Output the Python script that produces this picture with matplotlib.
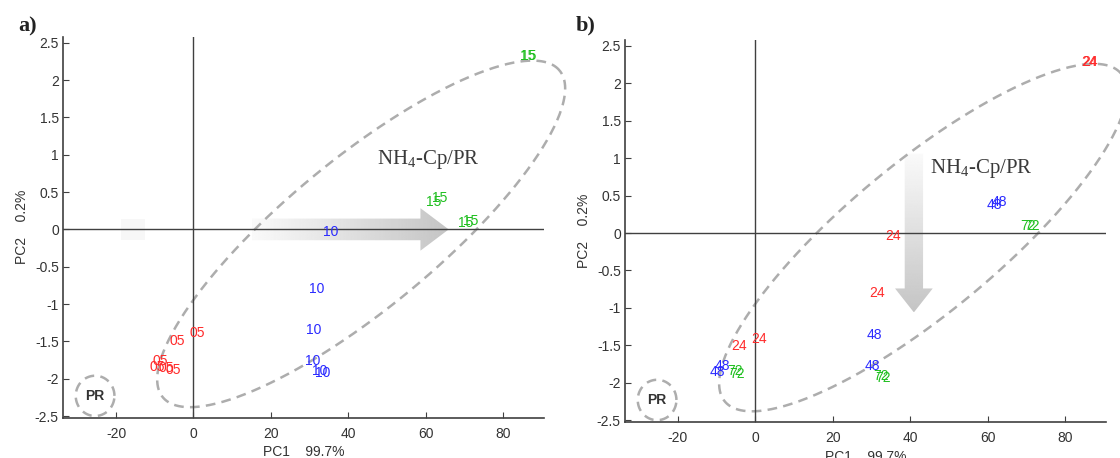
import numpy as np
import matplotlib
matplotlib.use("Agg")
import matplotlib.pyplot as plt
from matplotlib.patches import Polygon

plt.rcParams['font.family'] = ['Liberation Sans', 'DejaVu Sans']
plt.rcParams['mathtext.fontset'] = 'custom'
plt.rcParams['mathtext.rm'] = 'Liberation Serif'
plt.rcParams['lines.scale_dashes'] = False
plt.rcParams['axes.unicode_minus'] = False

# PCA scores, panel a (05 / 10 / 15)
a_x05 = [0.9, -4.3, -8.6, -9.3, -6.9, -5.2]
a_y05 = [-1.39, -1.49, -1.76, -1.84, -1.85, -1.88]
a_x10 = [35.3, 31.7, 31.0, 30.8, 32.5, 33.3]
a_y10 = [-0.03, -0.80, -1.35, -1.76, -1.90, -1.92]
a_x15 = [86.4, 86.6, 62.0, 63.6, 70.2, 71.7]
a_y15 = [2.32, 2.32, 0.37, 0.42, 0.09, 0.11]

# PCA scores, panel b (24 / 48 / 72)
b_x24 = [86.3, 86.5, 35.6, 31.4, 0.9, -4.3]
b_y24 = [2.28, 2.28, -0.04, -0.80, -1.41, -1.51]
b_x48 = [61.8, 63.1, 30.8, 30.3, -8.5, -9.7]
b_y48 = [0.38, 0.42, -1.36, -1.78, -1.78, -1.85]
b_x72 = [70.4, 71.4, 32.5, 33.1, -5.3, -4.8]
b_y72 = [0.09, 0.10, -1.91, -1.93, -1.84, -1.88]

xticks = [-20, 0, 20, 40, 60, 80]
yticks = [-2.5, -2, -1.5, -1, -0.5, 0, 0.5, 1, 1.5, 2, 2.5]
ytick_labels = ['-2.5', '-2', '-1.5', '-1', '-0.5', '0', '0.5', '1', '1.5', '2', '2.5']

# group ellipse (centre, two conjugate half-axes) and the PR circle
ell_c = (43.3, -0.06)
ell_u = (51.2, 2.19)
ell_v = (-12.35, 0.77)
pr_c = (-25.4, -2.23)
pr_r = (5.0, 0.27)

RED = '#ff2a2a'
BLUE = '#2a2aff'
GREEN = '#1fbf1f'
GREY = '#404040'


def dashed_ellipse(ax, c, u, v):
    t = np.linspace(0, 2 * np.pi, 400)
    x = c[0] + u[0] * np.cos(t) + v[0] * np.sin(t)
    y = c[1] + u[1] * np.cos(t) + v[1] * np.sin(t)
    ln, = ax.plot(x, y, color='#adadad', lw=1.8, clip_on=False, zorder=2)
    ln.set_dashes((7, 4.5))


def grad_arrow(ax, verts, horizontal):
    # arrow outline used as a clip path for a grey ramp
    poly = Polygon(verts, closed=True, facecolor='none', edgecolor='none')
    ax.add_patch(poly)
    xs = [p[0] for p in verts]
    ys = [p[1] for p in verts]
    ramp = np.linspace(0.98, 0.77, 256)
    img = ramp[None, :] if horizontal else ramp[:, None]
    im = ax.imshow(img, cmap='gray', vmin=0, vmax=1, aspect='auto',
                   extent=(min(xs), max(xs), min(ys), max(ys)),
                   origin='upper', zorder=1, interpolation='bilinear')
    im.set_clip_path(poly)


def setup(ax):
    ax.set_xlim(-33.7, 90.5)
    ax.set_ylim(-2.52, 2.58)
    for s in ['top', 'right']:
        ax.spines[s].set_visible(False)
    for s in ['left', 'bottom']:
        ax.spines[s].set_color(GREY)
        ax.spines[s].set_linewidth(1.2)
    ax.set_xticks(xticks)
    ax.set_yticks(yticks)
    ax.set_yticklabels(ytick_labels)
    ax.tick_params(direction='in', length=4, color=GREY, labelsize=10,
                   labelcolor='#333333')
    ax.tick_params(axis='x', pad=7)
    ax.tick_params(axis='y', pad=3)
    ax.axhline(0, color=GREY, lw=1.0, zorder=3)
    ax.axvline(0, color=GREY, lw=1.0, zorder=3)
    ax.set_xlabel('PC1    99.7%', fontsize=10, color='#333333', labelpad=3)
    ax.set_ylabel('PC2    0.2%', fontsize=10, color='#333333', labelpad=4)
    dashed_ellipse(ax, ell_c, ell_u, ell_v)
    dashed_ellipse(ax, pr_c, (pr_r[0], 0), (0, pr_r[1]))
    ax.text(pr_c[0], pr_c[1], 'PR', ha='center', va='center', fontsize=10,
            fontweight='bold', color='#333333', zorder=4)


def labels(ax, xs, ys, txt, col):
    for x, y in zip(xs, ys):
        ax.text(x, y, txt, ha='center', va='center', fontsize=10, color=col, zorder=5)


fig = plt.figure(figsize=(11.2, 4.58), dpi=100)
ax1 = fig.add_axes([0.0562, 0.0884, 0.4295, 0.8312])
ax2 = fig.add_axes([0.558, 0.0793, 0.4292, 0.8334])

# panel a
setup(ax1)
ax1.add_patch(plt.Rectangle((-18.8, -0.14), 6.4, 0.28, color='#f7f7f7', lw=0, zorder=1))
grad_arrow(ax1, [(15.1, -0.145), (58.6, -0.145), (58.6, -0.285), (65.9, 0),
                 (58.6, 0.285), (58.6, 0.145), (15.1, 0.145)], True)
labels(ax1, a_x05, a_y05, '05', RED)
labels(ax1, a_x10, a_y10, '10', BLUE)
labels(ax1, a_x15, a_y15, '15', GREEN)
ax1.text(47.5, 0.93, r'NH$_\mathrm{4}$-Cp/PR', family='Liberation Serif',
         fontsize=15, color='#3a3a3a', va='center', ha='left', zorder=5)
ax1.set_xlim(-33.7, 90.5)
ax1.set_ylim(-2.52, 2.58)

# panel b
setup(ax2)
grad_arrow(ax2, [(38.58, 1.06), (38.58, -0.74), (36.08, -0.74), (40.95, -1.06),
                 (45.82, -0.74), (43.32, -0.74), (43.32, 1.06)], False)
labels(ax2, b_x24, b_y24, '24', RED)
labels(ax2, b_x48, b_y48, '48', BLUE)
labels(ax2, b_x72, b_y72, '72', GREEN)
ax2.text(45.0, 0.86, r'NH$_\mathrm{4}$-Cp/PR', family='Liberation Serif',
         fontsize=15, color='#3a3a3a', va='center', ha='left', zorder=5)
ax2.set_xlim(-33.7, 90.5)
ax2.set_ylim(-2.52, 2.58)

fig.text(0.016, 0.943, 'a)', family='Liberation Serif', fontweight='bold',
         fontsize=16, va='center', color='#222222')
fig.text(0.514, 0.945, 'b)', family='Liberation Serif', fontweight='bold',
         fontsize=16, va='center', color='#222222')

fig.savefig('out.png', dpi=100, facecolor='white')
